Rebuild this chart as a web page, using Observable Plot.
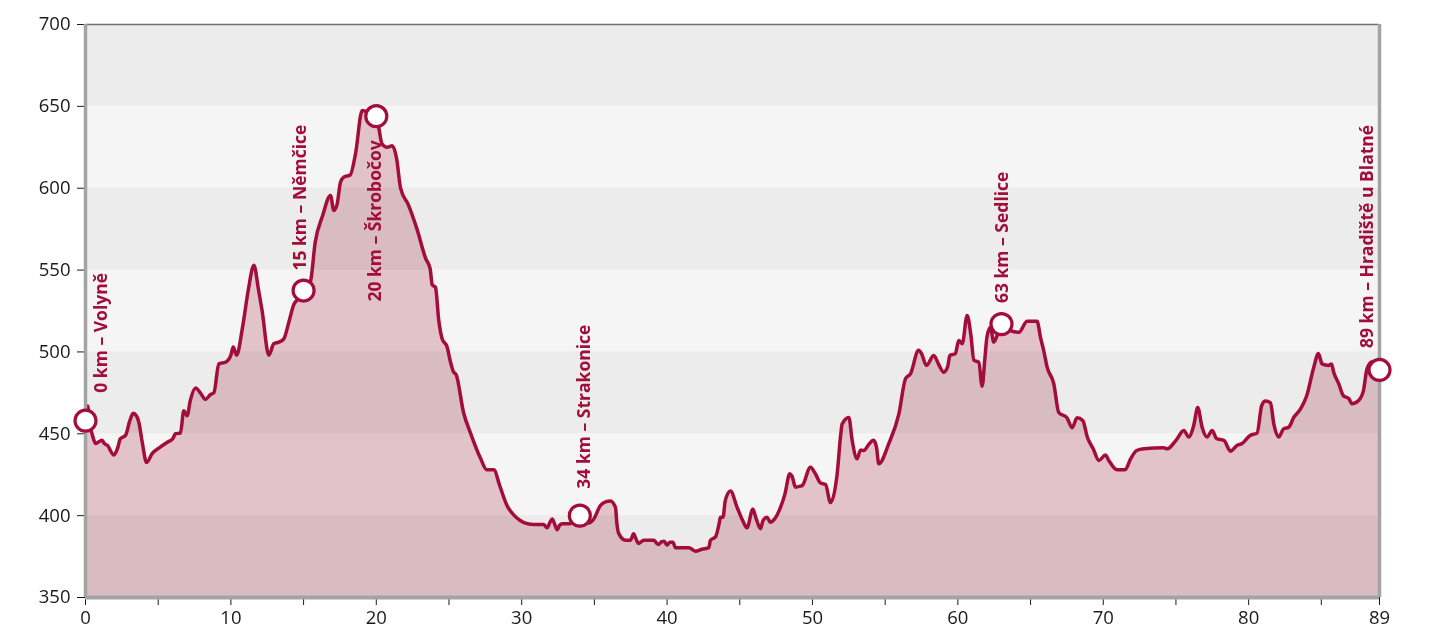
<!DOCTYPE html>
<html>
<head>
<meta charset="utf-8">
<script src="https://cdn.jsdelivr.net/npm/d3@7"></script>
<script src="https://cdn.jsdelivr.net/npm/@observablehq/plot@0.6"></script>
<style>
  html, body { margin: 0; padding: 0; background: #ffffff; }
  #chart { width: 1434px; height: 636px; }
</style>
</head>
<body>
<div id="chart"></div>
<script>
// Distance along the route (km)
const distanceKm = [
  0, 0.15, 0.3, 0.45, 0.7, 0.9, 1.14, 1.3, 1.5, 1.95, 2.2, 2.4, 2.75, 3.05, 3.28, 3.5, 3.67, 3.9, 4.2, 4.59,
  5.16, 5.66, 6.0, 6.19, 6.53, 6.76, 6.99, 7.2, 7.57, 7.9, 8.25, 8.6, 8.83, 9.17, 9.63, 10.0, 10.16, 10.39, 10.8, 11.2,
  11.58, 11.9, 12.15, 12.61, 12.95, 13.3, 13.64, 13.98, 14.33, 14.7, 15, 15.47, 15.8, 16.3, 16.85, 17.08, 17.3, 17.54, 17.8, 18.2,
  18.57, 19.03, 19.5, 20, 20.4, 20.75, 21.1, 21.4, 21.67, 22.2, 22.8, 23.4, 23.7, 23.85, 24.07, 24.3, 24.53, 24.87, 25.1, 25.3,
  25.5, 26.0, 26.5, 27.17, 27.6, 28.08, 28.5, 29.0, 29.5, 29.9, 30.4, 30.83, 31.5, 31.75, 31.95, 32.1, 32.3, 32.44, 32.6, 32.8,
  33.3, 34, 34.3, 34.6, 34.96, 35.4, 35.8, 36.1, 36.45, 36.55, 36.68, 37.14, 37.48, 37.7, 37.85, 38.05, 38.4, 39.1, 39.3, 39.43,
  39.6, 39.8, 40.0, 40.2, 40.4, 40.58, 41.5, 41.95, 42.4, 42.87, 42.98, 43.33, 43.6, 43.67, 43.85, 44.0, 44.36, 44.82, 45.2, 45.5,
  45.9, 46.1, 46.42, 46.6, 46.88, 47.1, 47.4, 47.8, 48.1, 48.44, 48.6, 48.83, 49.17, 49.3, 49.86, 50.2, 50.55, 50.9, 51.24, 51.7,
  51.95, 52.04, 52.5, 52.73, 53.07, 53.3, 53.53, 53.87, 54.2, 54.4, 54.56, 55.25, 55.94, 56.4, 56.74, 57.3, 57.5, 57.84, 58.34, 58.7,
  59.03, 59.3, 59.45, 59.83, 60.06, 60.3, 60.64, 60.9, 61.1, 61.44, 61.67, 61.85, 62.0, 62.24, 62.47, 62.7, 63, 63.6, 64.2, 64.76,
  65.45, 65.68, 65.9, 66.14, 66.6, 66.94, 67.5, 67.86, 68.2, 68.6, 68.9, 69.3, 69.7, 70.15, 70.38, 70.95, 71.5, 71.9, 72.3, 72.8,
  74.16, 74.4, 75.0, 75.54, 75.88, 76.22, 76.5, 76.8, 77.14, 77.49, 77.8, 78.3, 78.75, 79.2, 79.55, 80.1, 80.58, 80.9, 81.16, 81.5,
  81.73, 82.07, 82.4, 82.76, 83.1, 83.56, 84.0, 84.48, 84.8, 85.05, 85.5, 85.7, 85.85, 86.2, 86.5, 86.9, 87.1, 87.56, 87.9, 88.14,
  88.5, 89
];
// Elevation (m a.s.l.)
const elevationM = [
  458, 467, 455, 450, 444, 445, 446, 444, 443, 437, 441, 447, 449, 458, 462.5, 461, 457, 445, 432.5, 438,
  442, 445, 447, 450, 450.5, 464, 461, 470, 478, 475, 471, 474, 475, 492.7, 493.7, 498, 503, 498, 515, 538,
  553, 538, 525, 498, 505, 506, 508, 518, 529, 533, 537.5, 543, 567, 583, 595.6, 586.4, 590, 603.7, 607, 608,
  621, 647.5, 646, 644, 627, 625, 626, 618, 600, 590, 575, 557, 551, 541, 539.5, 519, 508, 503, 494, 488,
  486, 463, 450, 435, 428, 428, 418, 406, 400, 397, 395, 394.6, 394.6, 392.6, 396, 398, 394, 391.4, 394, 395,
  395, 400, 396, 395.5, 398, 406, 408.5, 409, 405, 395, 389, 385, 385, 389, 386, 383, 385, 385, 383, 382.4,
  384, 384.4, 382, 383.8, 383.8, 380.4, 380.4, 378.3, 379.5, 380.4, 385, 387, 396, 399, 399, 409, 415, 405, 397, 392.6,
  404, 399, 392, 397, 399, 396, 398, 405, 413, 425.6, 424, 417.4, 418, 418.4, 429.6, 425.6, 420, 419, 408, 425.6,
  450, 456, 460, 446, 434.7, 440, 439.8, 443.5, 446, 442, 431.7, 444, 462, 483.6, 486.6, 501, 499, 491.7, 497.8, 492,
  487.6, 491, 497.8, 499, 507, 505, 522.3, 510, 495, 493.7, 479, 495, 509, 515, 506, 510, 517, 513, 512, 518.8,
  518.8, 509, 501, 490.7, 480.5, 463, 459.8, 453.7, 459.8, 458, 448, 441, 433.7, 437, 433.7, 428, 428, 435, 439.8, 440.8,
  441.4, 440.8, 446, 452, 448, 455, 466, 454, 448, 452, 447, 446, 439.4, 442.9, 444, 449, 450.4, 467.3, 470, 469,
  456, 448, 453, 454, 460, 465, 473.4, 490.7, 499, 492.7, 491.7, 492.7, 487.6, 480.5, 473.4, 471.4, 468.3, 470.3, 476.5, 489.7,
  494, 489
];

// Named places along the route
const placeKm = [0, 15, 20, 34, 63, 89];
const placeElevation = [458, 537.5, 644, 400, 517, 489];
const placeLabels = [
  "0 km – Volyně",
  "15 km – Němčice",
  "20 km – Škrobočov",
  "34 km – Strakonice",
  "63 km – Sedlice",
  "89 km – Hradiště u Blatné"
];

// Axis ticks
const yTicks = [350, 400, 450, 500, 550, 600, 650, 700];
const xTicks = [0, 5, 10, 15, 20, 25, 30, 35, 40, 45, 50, 55, 60, 65, 70, 75, 80, 85, 89];
const xTickLabels = ["0", "", "10", "", "20", "", "30", "", "40", "", "50", "", "60", "", "70", "", "80", "", "89"];

// Shaded horizontal bands (lower/upper bounds)
const bandLow = [350, 450, 550, 650];
const bandHigh = [400, 500, 600, 700];

const profile = distanceKm.map((d, i) => ({km: d, elev: elevationM[i]}));
const places = placeKm.map((d, i) => ({km: d, elev: placeElevation[i], label: placeLabels[i]}));
const bands = bandLow.map((d, i) => ({lo: d, hi: bandHigh[i]}));

const crimson = "#a20d3b";

// label placement (screen offsets) for each named place
const labelPlacement = [
  {dx: 21, dy: -28, anchor: "start"},
  {dx: 2, dy: -20, anchor: "start"},
  {dx: 5, dy: 24, anchor: "end"},
  {dx: 10, dy: -27, anchor: "start"},
  {dx: 7, dy: -21, anchor: "start"},
  {dx: -7, dy: -22, anchor: "start"}
];

const labelMarks = places.map((p, i) => Plot.text([p], {
  x: "km", y: "elev", text: "label",
  rotate: -90,
  textAnchor: labelPlacement[i].anchor,
  lineAnchor: "bottom",
  dx: labelPlacement[i].dx,
  dy: labelPlacement[i].dy,
  fill: crimson,
  fontWeight: "bold",
  fontSize: 17.5
}));

const chart = Plot.plot({
  width: 1434,
  height: 636,
  marginLeft: 85,
  marginRight: 55,
  marginTop: 24,
  marginBottom: 39,
  style: {fontFamily: "'Open Sans', sans-serif", fontSize: "18.5px", color: "#1a1a1a", background: "#ffffff"},
  x: {domain: [0, 89], ticks: xTicks, tickFormat: d => xTickLabels[xTicks.indexOf(d)], tickSize: 8, tickPadding: 5, label: null},
  y: {domain: [350, 700], ticks: yTicks, tickSize: 8, tickPadding: 7, label: null},
  marks: [
    Plot.rect([{}], {x1: 0, x2: 89, y1: 350, y2: 700, fill: "#f5f5f5"}),
    Plot.areaY(profile, {x: "km", y1: 350, y2: "elev", fill: "#e2c3ca", curve: "monotone-x"}),
    Plot.rect(bands, {x1: 0, x2: 89, y1: "lo", y2: "hi", fill: "#f5f6f5", mixBlendMode: "multiply"}),
    Plot.line(profile, {x: "km", y: "elev", stroke: crimson, strokeWidth: 3.5, curve: "monotone-x", strokeLinejoin: "round"}),
    Plot.ruleY([700], {stroke: "#6e6e6e", strokeWidth: 1.5}),
    Plot.ruleX([0], {stroke: "#a3a3a3", strokeWidth: 3.5}),
    Plot.ruleX([89], {stroke: "#a3a3a3", strokeWidth: 3.5}),
    Plot.ruleY([350], {stroke: "#a3a3a3", strokeWidth: 4}),
    Plot.dot(places, {x: "km", y: "elev", r: 10.5, fill: "white", stroke: crimson, strokeWidth: 3.2}),
    ...labelMarks
  ]
});
document.getElementById("chart").appendChild(chart);
</script>
</body>
</html>
